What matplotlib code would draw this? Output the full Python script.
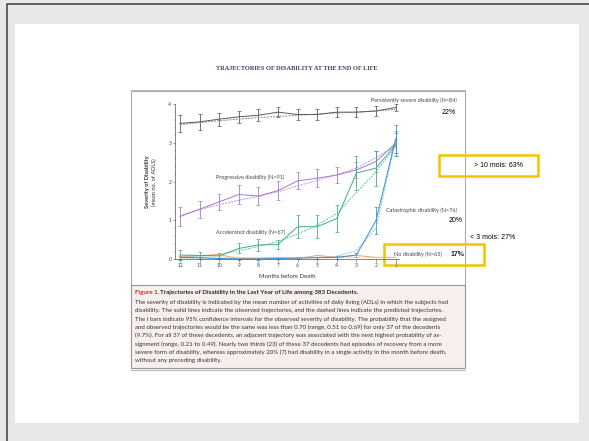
import matplotlib
matplotlib.use("Agg")
import matplotlib.pyplot as plt
from matplotlib.patches import Rectangle

plt.rcParams['font.family'] = ['Lato', 'DejaVu Sans']

# Months before death
months = [12, 11, 10, 9, 8, 7, 6, 5, 4, 3, 2, 1]

# Observed mean no. of ADLs, predicted trajectories, and 95% CI half-widths
severe_obs = [3.50, 3.54, 3.61, 3.67, 3.71, 3.79, 3.73, 3.73, 3.79, 3.79, 3.82, 3.91]
severe_pred = [3.47, 3.52, 3.57, 3.61, 3.65, 3.68, 3.71, 3.74, 3.77, 3.79, 3.82, 3.86]
severe_err = [0.21, 0.20, 0.17, 0.16, 0.16, 0.13, 0.15, 0.15, 0.13, 0.12, 0.12, 0.09]

progressive_obs = [1.10, 1.29, 1.48, 1.67, 1.63, 1.77, 2.02, 2.09, 2.17, 2.30, 2.52, 2.99]
progressive_pred = [1.13, 1.28, 1.41, 1.52, 1.62, 1.74, 1.89, 2.03, 2.18, 2.35, 2.62, 2.93]
progressive_err = [0.24, 0.22, 0.20, 0.24, 0.22, 0.24, 0.22, 0.23, 0.21, 0.20, 0.26, 0.32]

accelerated_obs = [0.11, 0.10, 0.09, 0.28, 0.37, 0.38, 0.84, 0.84, 1.05, 2.22, 2.35, 2.95]
accelerated_pred = [0.06, 0.08, 0.12, 0.22, 0.33, 0.46, 0.65, 0.88, 1.18, 1.72, 2.25, 2.90]
accelerated_err = [0.12, 0.10, 0.08, 0.13, 0.15, 0.12, 0.30, 0.30, 0.34, 0.43, 0.45, 0.30]

catastrophic_obs = [0.05, 0.04, 0.02, 0.01, 0.01, 0.02, 0.03, 0.04, 0.05, 0.11, 1.00, 3.10]
catastrophic_pred = [0.03, 0.03, 0.03, 0.03, 0.03, 0.03, 0.04, 0.05, 0.08, 0.22, 0.80, 3.05]
catastrophic_err = [0.03, 0.03, 0.02, 0.02, 0.02, 0.02, 0.02, 0.03, 0.03, 0.05, 0.35, 0.35]

none_obs = [0.07, 0.10, 0.12, 0.02, 0.02, 0.05, 0.02, 0.10, 0.05, 0.10, 0.05, 0.05]
none_pred = [0.06, 0.06, 0.06, 0.05, 0.05, 0.05, 0.05, 0.05, 0.05, 0.05, 0.05, 0.05]

caption_lines = [
    "The severity of disability is indicated by the mean number of activities of daily living (ADLs) in which the subjects had",
    "disability. The solid lines indicate the observed trajectories, and the dashed lines indicate the predicted trajectories.",
    "The I bars indicate 95% confidence intervals for the observed severity of disability. The probability that the assigned",
    "and observed trajectories would be the same was less than 0.70 (range, 0.51 to 0.69) for only 37 of the decedents",
    "(9.7%). For all 37 of these decedents, an adjacent trajectory was associated with the next highest probability of as-",
    "signment (range, 0.21 to 0.49). Nearly two thirds (23) of these 37 decedents had episodes of recovery from a more",
    "severe form of disability, whereas approximately 20% (7) had disability in a single activity in the month before death,",
    "without any preceding disability.",
]

W, H = 589, 441
fig = plt.figure(figsize=(W / 100, H / 100), dpi=100, facecolor="#e8e8e8")

# background slide, drawn in pixel coordinates
bg = fig.add_axes([0, 0, 1, 1], zorder=0)
bg.set_xlim(0, W)
bg.set_ylim(H, 0)
bg.axis("off")
bg.plot([7, 7, W], [H, 4, 4], color="#555555", lw=1.3)
bg.add_patch(Rectangle((15, 24), 564, 399, facecolor="white", edgecolor="none"))
bg.text(297, 69, "TRAJECTORIES OF DISABILITY AT THE END OF LIFE", family="Liberation Serif",
        fontsize=4.6, fontweight="bold", color="#3c3c5c", ha="center", va="center")

# journal figure frame and caption panel
bg.add_patch(Rectangle((130.5, 91), 334, 277, facecolor="white", edgecolor="#aaaaaa", lw=0.8))
bg.plot([130.5, 464.5], [89.8, 89.8], color="#bbbbbb", lw=0.8)
bg.add_patch(Rectangle((130.5, 285), 334, 83, facecolor="#f7efec", edgecolor="#999999", lw=0.8))
bg.plot([130.5, 464.5], [369.5, 369.5], color="#bbbbbb", lw=0.8)

bg.text(135, 292.5, "Figure 1.", color="#d9232e", fontsize=4.5, fontweight="bold", va="center")
bg.text(160.5, 292.5, "Trajectories of Disability in the Last Year of Life among 383 Decedents.",
        color="#2a2a3a", fontsize=4.5, fontweight="bold", va="center")
for i, line in enumerate(caption_lines):
    bg.text(135, 302.3 + i * 8.35, line, color="#333340", fontsize=4.4, va="center")

# axis title
bg.text(147.5, 182, "Severity of Disability", rotation=90, fontsize=4.1, fontweight="bold",
        color="#333333", ha="center", va="center")
bg.text(154, 182, "(mean no. of ADLS)", rotation=90, fontsize=4.1, color="#333333",
        ha="center", va="center")
bg.text(287.5, 276, "Months before Death", fontsize=4.3, color="#333333", ha="center", va="center")

# trajectory labels
lab = dict(fontsize=4.0, color="#444455", va="center")
bg.text(457, 100.5, "Persistently severe disability (N=84)", ha="right", **lab)
bg.text(216, 177.5, "Progressive disability (N=91)", ha="left", **lab)
bg.text(216, 232.5, "Accelerated disability (N=67)", ha="left", **lab)
bg.text(457, 210.7, "Catastrophic disability (N=76)", ha="right", **lab)
bg.text(394, 254.3, "No disability (N=65)", ha="left", **lab)

pct = dict(family="Liberation Sans", fontsize=5, color="black", va="center")
bg.text(456, 113, "22%", ha="right", **pct)
bg.text(463, 221, "20%", ha="right", **pct)
bg.text(451, 254.3, "17%", ha="left", fontweight="bold", family="Liberation Sans",
        fontsize=5, color="#1a1a40", va="center")
bg.text(474, 165.3, "> 10 mois: 63%", ha="left", **pct)
bg.text(470.5, 237.3, "< 3 mois: 27%", ha="left", **pct)

# highlight boxes
bg.add_patch(Rectangle((439, 155), 99, 21, facecolor="none", edgecolor="#f5c400", lw=1.8, zorder=5))
bg.add_patch(Rectangle((384, 244), 100, 21, facecolor="none", edgecolor="#f5c400", lw=1.8, zorder=5))

# main chart
ax = fig.add_axes([175 / W, 1 - 259.3 / H, (399 - 175) / W, (259.3 - 104) / H], zorder=2)
ax.patch.set_alpha(0)

series = [
    (severe_obs, severe_pred, severe_err, "#5a5a5a", "#888888"),
    (progressive_obs, progressive_pred, progressive_err, "#a27ad0", "#b597dc"),
    (accelerated_obs, accelerated_pred, accelerated_err, "#3fae86", "#5cc49d"),
    (catastrophic_obs, catastrophic_pred, catastrophic_err, "#3b8fd0", "#7cc3ea"),
]
for obs, pred, err, col, pcol in series:
    ax.errorbar(months, obs, yerr=err, color=col, lw=0.7, elinewidth=0.6, capsize=1.3,
                capthick=0.5, clip_on=False)
    ax.plot(months, pred, color=pcol, lw=0.7, ls=(0, (2, 1.2)), clip_on=False)

ax.plot(months, none_obs, color="#f4a566", lw=0.7, clip_on=False)
ax.plot(months, none_pred, color="#f8c090", lw=0.6, ls=(0, (2, 1.2)), clip_on=False)

ax.set_xlim(12.255, 0.827)
ax.set_ylim(0, 4)
ax.set_xticks(months)
ax.set_yticks([0, 1, 2, 3, 4])
ax.set_yticks([v / 5 for v in range(21)], minor=True)
ax.tick_params(labelsize=3.6, length=1.8, width=0.4, pad=0.8, colors="#444444")
ax.tick_params(axis="y", which="minor", length=1.0, width=0.3, colors="#666666")
ax.tick_params(axis="x", which="minor", length=0)
for s in ["top", "right"]:
    ax.spines[s].set_visible(False)
for s in ["left", "bottom"]:
    ax.spines[s].set_linewidth(0.5)
    ax.spines[s].set_color("#555555")

fig.savefig("out.png", dpi=100, facecolor=fig.get_facecolor())
